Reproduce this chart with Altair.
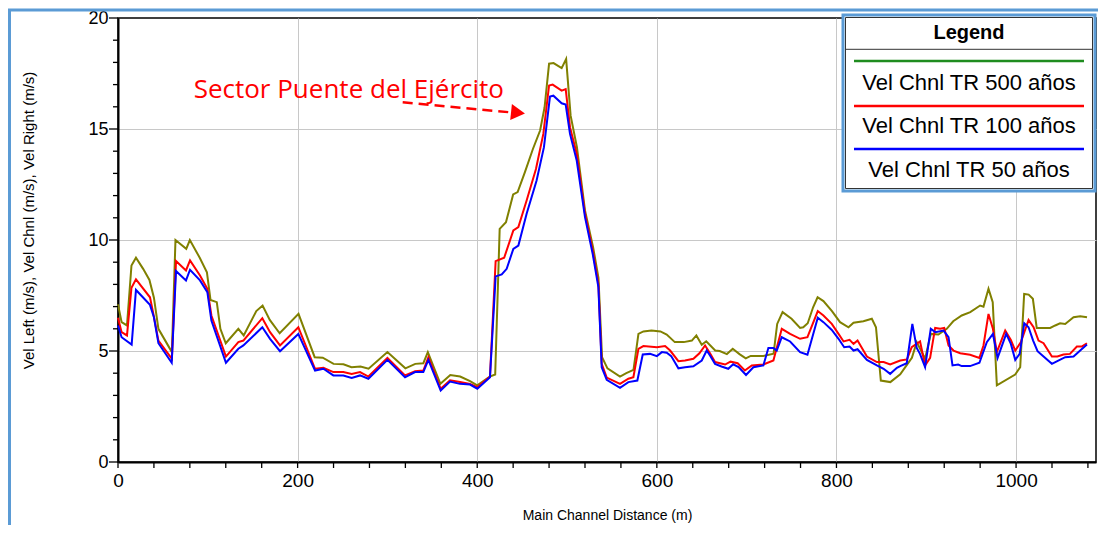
import altair as alt
import pandas as pd

# ---------------- data ----------------
dist_500 = [0, 4, 10, 15, 20, 28, 35, 40, 45, 60, 64, 76, 80, 91, 99, 103, 110, 114, 120, 134,
            140, 154, 161, 169, 180, 201, 219, 228, 240, 251, 260, 270, 279, 300, 320, 331, 340,
            345, 359, 370, 381, 392, 400, 414, 420, 425, 432, 440, 445, 453, 462, 470, 475, 480,
            485, 494, 499, 504, 511, 520, 529, 535, 539, 545, 559, 566, 574, 579.5, 585, 594, 604,
            611, 620, 630, 639, 644, 650, 655, 665, 670, 678, 684.5, 692, 699, 704.5, 718.6, 730,
            734, 740, 750, 759.5, 763, 768, 774, 779, 785.5, 795, 804, 813.4, 819, 830, 839.4, 844,
            849.4, 860, 871, 878, 884, 889.4, 898.7, 905, 913.5, 922.8, 930, 939.5, 949, 960,
            963.7, 969.3, 974, 978.6, 999, 1004.6, 1009, 1014, 1018.7, 1023, 1038, 1043.6, 1049,
            1054.7, 1064, 1071.4, 1079]
vel_500 = [7.1, 6.3, 6.15, 8.85, 9.2, 8.7, 8.2, 7.4, 6.0, 4.95, 10.0, 9.6, 10.0, 9.2, 8.55, 7.3,
           7.2, 6.0, 5.35, 6.0, 5.7, 6.8, 7.05, 6.4, 5.8, 6.67, 4.72, 4.7, 4.42, 4.4, 4.27, 4.3,
           4.2, 4.95, 4.22, 4.42, 4.45, 4.95, 3.52, 3.92, 3.85, 3.64, 3.45, 3.85, 3.94, 10.5, 10.8,
           12.05, 12.16, 13.05, 14.1, 14.93, 15.98, 17.94, 17.97, 17.74, 18.15, 15.6, 14.18, 11.33,
           9.68, 8.3, 4.72, 4.22, 3.85, 4.0, 4.15, 5.77, 5.88, 5.92, 5.88, 5.74, 5.4, 5.4, 5.47,
           5.7, 5.28, 5.44, 5.02, 5.0, 4.86, 5.1, 4.86, 4.67, 4.78, 4.78, 4.88, 6.22, 6.75, 6.45,
           6.04, 6.07, 6.25, 6.97, 7.42, 7.25, 6.8, 6.3, 6.07, 6.27, 6.34, 6.45, 6.07, 3.67, 3.6,
           3.95, 4.35, 4.69, 5.4, 4.65, 5.77, 5.74, 6.0, 6.34, 6.6, 6.75, 7.05, 7.0, 7.8, 7.2,
           3.45, 3.94, 4.27, 7.57, 7.54, 7.35, 6.04, 6.04, 6.15, 6.25, 6.22, 6.52, 6.57, 6.52]

dist_100 = [0, 4, 10, 15, 20, 35.6, 39, 45, 60, 64.6, 75.7, 80.2, 91.3, 99.5, 104, 120.2, 134,
            139.6, 160.7, 169.3, 180.4, 200.8, 219.4, 228.7, 239.8, 250.9, 260.2, 269.5, 278.8,
            300, 319.6, 330.8, 340, 345.6, 359.3, 369.7, 380.8, 392, 400.1, 414.2, 420.5, 430,
            440.2, 445.8, 455, 465.4, 473.6, 480, 484, 494, 498.5, 503.3, 510.8, 520, 528.6, 534.9,
            538.6, 544.2, 559, 568.3, 573.9, 579.5, 585, 600, 609.2, 614.8, 624, 631.4, 640.7,
            647.4, 653.7, 659.2, 664.8, 670.4, 676, 682, 690, 698, 705.7, 718.6, 729.8, 739.1,
            748.4, 759.5, 767.7, 779.2, 785.5, 794.8, 802.3, 807.9, 814.6, 819, 823.5, 833.9, 845,
            852.5, 859.8, 871, 878.5, 883.8, 893.1, 898.7, 904.3, 909.9, 915.5, 920, 924.8, 930.3,
            937.8, 948.8, 959.2, 963.7, 969.3, 974.2, 978.6, 987.9, 994.2, 999.1, 1005.4, 1013.9,
            1019.5, 1025, 1030.6, 1039.9, 1046, 1052.8, 1060, 1067.7, 1073, 1078.9]
vel_100 = [6.5, 5.85, 5.7, 7.85, 8.23, 7.42, 6.75, 5.47, 4.65, 9.05, 8.63, 9.08, 8.4, 7.8, 6.6,
           4.75, 5.4, 5.47, 6.48, 5.85, 5.25, 6.07, 4.2, 4.24, 4.05, 4.05, 3.97, 4.05, 3.85, 4.69,
           3.9, 4.09, 4.12, 4.72, 3.3, 3.68, 3.6, 3.52, 3.37, 3.85, 9.05, 9.2, 10.43, 10.58, 11.78,
           13.2, 14.78, 16.96, 17.0, 16.73, 16.8, 15.08, 13.88, 11.18, 9.52, 8.03, 4.42, 3.8,
           3.52, 3.75, 3.82, 5.1, 5.22, 5.17, 5.22, 5.02, 4.54, 4.57, 4.65, 4.9, 5.25, 4.9, 4.5,
           4.45, 4.39, 4.52, 4.45, 4.12, 4.35, 4.39, 4.57, 6.0, 5.77, 5.55, 5.62, 6.8, 6.6, 6.22,
           5.77, 5.43, 5.5, 5.32, 5.47, 4.75, 4.5, 4.5, 4.39, 4.57, 4.62, 5.17, 5.43, 4.35, 4.69,
           6.04, 6.0, 6.04, 5.25, 5.02, 4.9, 4.83, 4.69, 5.25, 6.67, 6.0, 4.95, 5.92, 5.5, 5.02,
           5.4, 6.4, 6.07, 5.47, 5.35, 4.75, 4.75, 4.84, 4.87, 5.2, 5.2, 5.35]

dist_50 = [0, 4, 15.2, 20, 35.6, 40, 45, 59.8, 64.6, 75.7, 80.2, 91.3, 99.5, 104, 120.2, 134,
           139.6, 160.7, 169.3, 180.4, 200.8, 219.4, 228.7, 239.8, 250.9, 260.2, 269.5, 278.8,
           300, 319.6, 330.8, 340, 345.6, 359.3, 369.7, 380.8, 392, 400.1, 414.2, 420.5, 427.3,
           432.8, 440.2, 445.8, 455, 466.1, 474.3, 481, 484.8, 494, 498.5, 503.3, 510.8, 520,
           528.6, 534.9, 538.6, 544.2, 559, 568.3, 578.3, 584.3, 592.5, 600, 605.6, 611, 616, 624,
           631.4, 640.7, 650, 655.5, 659.2, 664.8, 672, 679.5, 685, 691, 699.3, 707.5, 718.6,
           724.2, 729.8, 733.5, 739.1, 748.4, 759.5, 767.7, 779.2, 785.5, 794.8, 802.3, 808.6,
           814.6, 819, 823.5, 833.9, 845, 852.5, 859.8, 867.3, 871, 878.3, 884.5, 889.4, 893,
           898.7, 905, 910, 919.3, 924.8, 929.2, 935.5, 939.5, 948.8, 959.2, 967.4, 974.2, 979.4,
           989, 994.2, 999.1, 1004, 1009.1, 1013.9, 1019, 1023.9, 1030.6, 1039.9, 1047, 1054.7,
           1064, 1071.4, 1078.9]
vel_50 = [6.15, 5.62, 5.29, 7.75, 7.08, 6.52, 5.35, 4.47, 8.6, 8.18, 8.66, 8.18, 7.65, 6.37,
          4.47, 5.1, 5.25, 6.07, 5.55, 4.99, 5.77, 4.12, 4.2, 3.9, 3.9, 3.79, 3.9, 3.75, 4.6,
          3.82, 4.05, 4.05, 4.6, 3.22, 3.62, 3.52, 3.49, 3.3, 3.82, 8.36, 8.45, 8.7, 9.6, 9.75,
          11.18, 12.68, 14.18, 16.46, 16.5, 16.16, 16.1, 14.78, 13.58, 11.03, 9.37, 7.88, 4.27,
          3.7, 3.34, 3.6, 3.67, 4.84, 4.87, 4.77, 4.95, 4.92, 4.77, 4.22, 4.27, 4.31, 4.57, 5.02,
          4.8, 4.42, 4.3, 4.2, 4.4, 4.28, 3.92, 4.27, 4.35, 5.14, 5.14, 5.02, 5.62, 5.43, 4.95,
          4.83, 6.5, 6.3, 5.95, 5.55, 5.17, 5.2, 5.02, 5.08, 4.6, 4.35, 4.2, 3.97, 4.24, 4.32,
          4.45, 6.22, 5.14, 4.87, 4.27, 6.0, 5.85, 5.92, 5.62, 4.35, 4.39, 4.32, 4.32, 4.47, 5.4,
          5.77, 4.69, 5.77, 5.32, 4.6, 4.87, 6.25, 6.07, 5.47, 4.99, 4.75, 4.42, 4.57, 4.72, 4.75,
          5.02, 5.29]

series_names = ["Vel Chnl TR 500 años", "Vel Chnl TR 100 años", "Vel Chnl TR 50 años"]
line_colors = ["#808000", "#FF0000", "#0000FF"]
legend_colors = ["#1F8C1F", "#FF0000", "#0000FF"]
legend_title = "Legend"

x_ticks = list(range(0, 1081, 40))
x_labels = list(range(0, 1001, 200))
y_major = [0, 5, 10, 15, 20]
y_minor = [v for v in range(0, 21) if v % 5 != 0]
x_title = "Main Channel Distance (m)"
y_title = "Vel Left (m/s), Vel Chnl (m/s), Vel Right (m/s)"

annot_text = ["Sector Puente del Ejército"]
annot_dist = [257]
annot_vel = [16.75]
arrow_dist = [317, 434.5]
arrow_vel = [16.2, 15.76]
head_dist = [445.4]
head_vel = [15.73]

# ---------------- encodings ----------------
PW, PH = 978, 444
x_axis = alt.Axis(
    values=x_labels, format="d",
    grid=True, gridColor="#c8c8c8", gridWidth=1,
    gridOpacity={"condition": {"test": "datum.value > 0", "value": 1}, "value": 0},
    ticks=False, domainColor="black", domainWidth=2,
    labelFontSize=19, labelPadding=9, labelColor="black", labelFlush=False,
    titleFontSize=14, titleColor="black", titleFontWeight="normal",
    titleY=53, titleBaseline="middle",
)
y_axis = alt.Axis(
    values=y_major,
    grid=True, gridColor="#c8c8c8", gridWidth=1,
    gridOpacity={"condition": {"test": "datum.value > 0 && datum.value < 20", "value": 1}, "value": 0},
    ticks=False, domainColor="black", domainWidth=2,
    labelFontSize=18, labelPadding=10, labelColor="black",
    titleFontSize=15, titleColor="black", titleFontWeight="normal",
    titleX=-90, titleY=202, titleBaseline="middle",
)

xenc = alt.X("dist:Q", scale=alt.Scale(domain=[0, 1089], nice=False, zero=False), axis=x_axis, title=x_title)
yenc = alt.Y("vel:Q", scale=alt.Scale(domain=[0, 20], nice=False), axis=y_axis, title=y_title)

layers = []
for d, v, c in [(dist_500, vel_500, line_colors[0]), (dist_100, vel_100, line_colors[1]), (dist_50, vel_50, line_colors[2])]:
    df = pd.DataFrame({"dist": d, "vel": v})
    layers.append(alt.Chart(df).mark_line(color=c, strokeWidth=2).encode(x=xenc, y=yenc))

# axis tick marks (drawn through the scales)
layers.append(alt.Chart(pd.DataFrame({"dist": x_ticks})).mark_rule(color="black", strokeWidth=1.3).encode(
    x=xenc, y=alt.value(PH), y2=alt.value(PH + 6)))
layers.append(alt.Chart(pd.DataFrame({"vel": y_major})).mark_rule(color="black", strokeWidth=1.3).encode(
    y=yenc, x=alt.value(-9), x2=alt.value(0)))
layers.append(alt.Chart(pd.DataFrame({"vel": y_minor})).mark_rule(color="black", strokeWidth=1.3).encode(
    y=yenc, x=alt.value(-5), x2=alt.value(0)))

# annotation
ann_df = pd.DataFrame({"dist": annot_dist, "vel": annot_vel, "t": annot_text})
layers.append(alt.Chart(ann_df).mark_text(font="Open Sans", fontSize=26, color="#FF0000", align="center", baseline="middle").encode(x=xenc, y=yenc, text="t:N"))
arr_df = pd.DataFrame({"dist": arrow_dist, "vel": arrow_vel})
layers.append(alt.Chart(arr_df).mark_line(color="#FF0000", strokeWidth=2.5, strokeDash=[10, 6]).encode(x=xenc, y=yenc))
head_df = pd.DataFrame({"dist": head_dist, "vel": head_vel})
layers.append(alt.Chart(head_df).mark_point(shape="triangle-right", filled=True, color="#FF0000", size=260, angle=6, opacity=1).encode(x=xenc, y=yenc))

# custom legend (decoration)
one = pd.DataFrame({"k": [0]})
LX0, LX1 = 725, 977
LY0 = -3
layers.append(alt.Chart(one).mark_rect(fill="white", stroke="#5B9BD5", strokeWidth=3).encode(
    x=alt.value(LX0), x2=alt.value(LX1), y=alt.value(LY0), y2=alt.value(LY0 + 176)))
layers.append(alt.Chart(one).mark_rect(fillOpacity=0, stroke="#333333", strokeWidth=1).encode(
    x=alt.value(LX0 + 2.5), x2=alt.value(LX1 - 2.5), y=alt.value(LY0 + 2.5), y2=alt.value(LY0 + 173.5)))
layers.append(alt.Chart(one).mark_text(fontSize=20, fontWeight="bold", color="black", align="center", baseline="middle").encode(
    x=alt.value((LX0 + LX1) / 2), y=alt.value(LY0 + 17.5), text=alt.value(legend_title)))
layers.append(alt.Chart(one).mark_rule(color="#333333", strokeWidth=1).encode(
    x=alt.value(LX0 + 2.5), x2=alt.value(LX1 - 2.5), y=alt.value(LY0 + 34.3)))
line_y = [46, 91, 134]
text_y = [68, 111, 155]
for name, col, ly, ty in zip(series_names, legend_colors, line_y, text_y):
    layers.append(alt.Chart(one).mark_rule(color=col, strokeWidth=2.5).encode(
        x=alt.value(LX0 + 11), x2=alt.value(LX1 - 11), y=alt.value(LY0 + ly)))
    layers.append(alt.Chart(one).mark_text(fontSize=22, color="black", align="center", baseline="middle").encode(
        x=alt.value((LX0 + LX1) / 2), y=alt.value(LY0 + ty), text=alt.value(name)))

# outer blue frame (decoration)
layers.append(alt.Chart(one).mark_rect(fillOpacity=0, stroke="#5B9BD5", strokeWidth=3).encode(
    x=alt.value(-108.5), x2=alt.value(1300), y=alt.value(-8), y2=alt.value(800)))

chart = alt.layer(*layers).properties(
    width=PW, height=PH,
    autosize=alt.AutoSizeParams(type="none"),
    padding={"left": 110, "top": 10, "right": 2, "bottom": 63},
    background="white",
).configure(font="Liberation Sans").configure_view(stroke="black", strokeWidth=1.5)

chart.save("out.html", embed_options={"renderer": "svg", "actions": False})
